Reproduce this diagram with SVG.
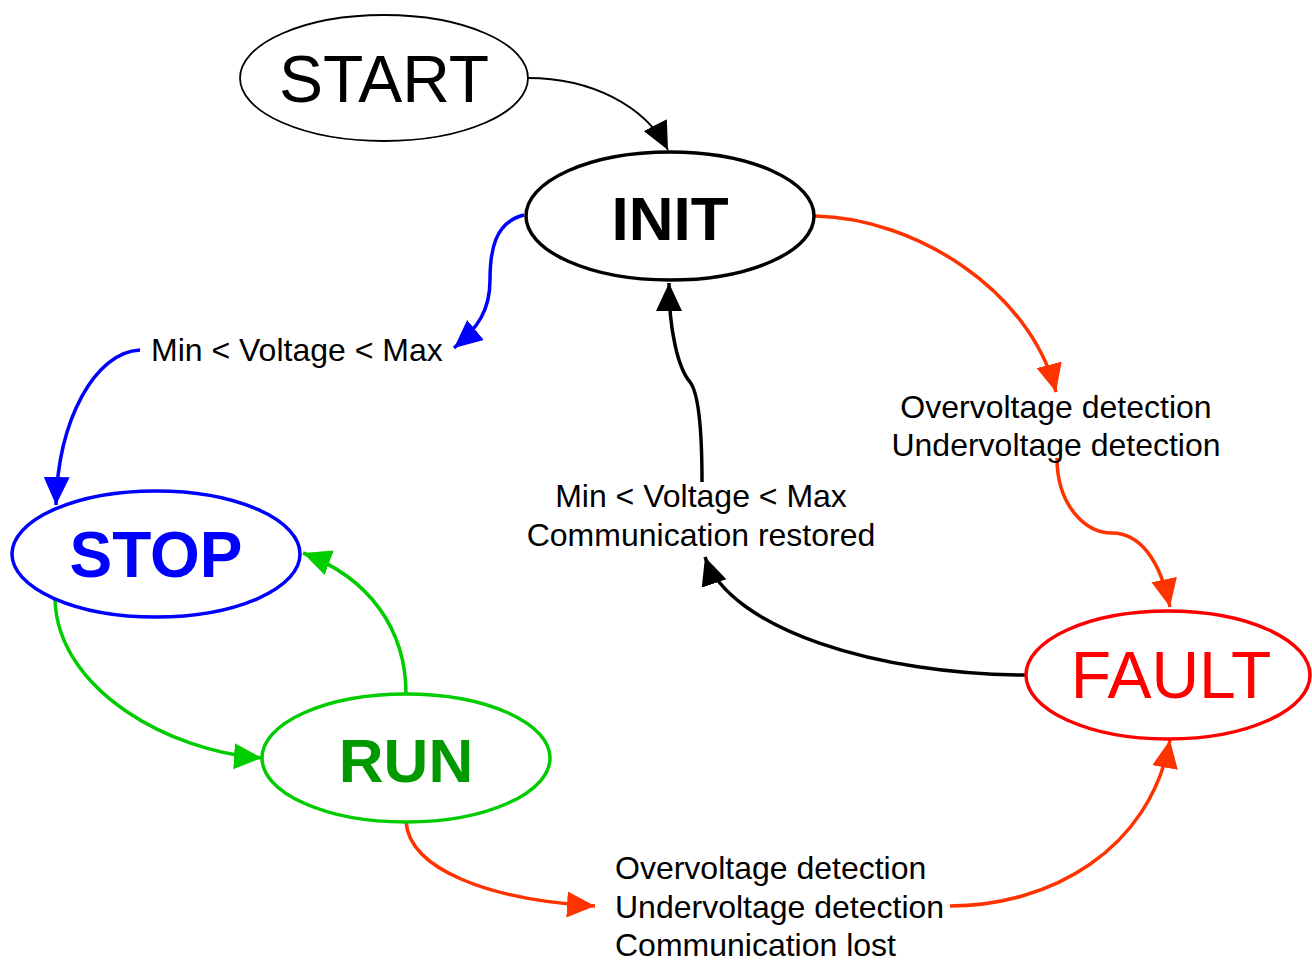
<svg xmlns="http://www.w3.org/2000/svg" width="1312" height="962" viewBox="0 0 1312 962">
<style>
.node{fill:#fff;stroke-width:3.5}
.big{font-family:"Liberation Sans",Arial,sans-serif;text-anchor:middle}
.lbl{font-family:"Liberation Sans",Arial,sans-serif;font-size:32px;fill:#000}
.c{fill:none;stroke-width:3.5}
</style>
<defs>
<marker id="ak" markerUnits="userSpaceOnUse" markerWidth="32" markerHeight="30" refX="28" refY="13" orient="auto"><path d="M0,0 L28,13 L0,26 z" fill="#000"/></marker>
<marker id="ab" markerUnits="userSpaceOnUse" markerWidth="32" markerHeight="30" refX="28" refY="13" orient="auto"><path d="M0,0 L28,13 L0,26 z" fill="#0000ff"/></marker>
<marker id="ag" markerUnits="userSpaceOnUse" markerWidth="32" markerHeight="30" refX="28" refY="13" orient="auto"><path d="M0,0 L28,13 L0,26 z" fill="#00cc00"/></marker>
<marker id="ar" markerUnits="userSpaceOnUse" markerWidth="32" markerHeight="30" refX="28" refY="13" orient="auto"><path d="M0,0 L28,13 L0,26 z" fill="#ff3300"/></marker>
</defs>
<rect width="1312" height="962" fill="#fff"/>
<g id="connectors">
<path class="c" d="M528,78 C590,78 645,105 668,150" stroke="#000" style="stroke-width:1.8" marker-end="url(#ak)"/>
<path class="c" d="M524,215 C495,222 490,250 490,280 C490,310 478,328 454,348" stroke="#0000ff" marker-end="url(#ab)"/>
<path class="c" d="M140,350 C95,352 58,420 56,505" stroke="#0000ff" marker-end="url(#ab)"/>
<path class="c" d="M55,600 C58,690 170,752 262,758" stroke="#00cc00" marker-end="url(#ag)"/>
<path class="c" d="M406,694 C406,630 370,578 303,553" stroke="#00cc00" marker-end="url(#ag)"/>
<path class="c" d="M406,822 C410,870 490,900 595,906" stroke="#ff3300" marker-end="url(#ar)"/>
<path class="c" d="M950,906 C1050,906 1150,850 1170,740" stroke="#ff3300" marker-end="url(#ar)"/>
<path class="c" d="M815,216 C915,218 1030,290 1056,392" stroke="#ff3300" marker-end="url(#ar)"/>
<path class="c" d="M1057,458 C1057,505 1085,533 1112,533 C1140,533 1160,560 1170,607" stroke="#ff3300" marker-end="url(#ar)"/>
<path class="c" d="M1026,675 C880,675 730,630 705,557" stroke="#000" marker-end="url(#ak)"/>
<path class="c" d="M702,482 C702,440 700,395 690,382 C678,368 669,330 669,283" stroke="#000" marker-end="url(#ak)"/>
</g>
<g id="start"><ellipse cx="384" cy="78" rx="144" ry="63" fill="#fff" stroke="#000" stroke-width="1.8"/><text class="big" x="384" y="102" fill="#000" style="font-size:66px">START</text></g>
<g id="init"><ellipse class="node" cx="670" cy="216" rx="144" ry="64" stroke="#000"/><text class="big" x="670" y="240" fill="#000" font-weight="bold" style="font-size:62px">INIT</text></g>
<g id="stop"><ellipse class="node" cx="156" cy="554" rx="144" ry="63" stroke="#0000ff"/><text class="big" x="156" y="577" fill="#0000ff" font-weight="bold" style="font-size:64px">STOP</text></g>
<g id="run"><ellipse class="node" cx="406" cy="758" rx="144" ry="64" stroke="#00cc00"/><text class="big" x="406" y="782" fill="#009900" font-weight="bold" style="font-size:62px">RUN</text></g>
<g id="fault"><ellipse class="node" cx="1168" cy="675" rx="142" ry="64" stroke="#ff0000"/><text class="big" x="1171" y="698" fill="#ff0000" style="font-size:66px">FAULT</text></g>
<g id="labels">
<text class="lbl" x="151" y="361">Min &lt; Voltage &lt; Max</text>
<text class="lbl" x="1056" y="418" text-anchor="middle">Overvoltage detection</text>
<text class="lbl" x="1056" y="456" text-anchor="middle">Undervoltage detection</text>
<text class="lbl" x="701" y="507" text-anchor="middle">Min &lt; Voltage &lt; Max</text>
<text class="lbl" x="701" y="546" text-anchor="middle">Communication restored</text>
<text class="lbl" x="615" y="879">Overvoltage detection</text>
<text class="lbl" x="615" y="918">Undervoltage detection</text>
<text class="lbl" x="615" y="956">Communication lost</text>
</g>
</svg>
